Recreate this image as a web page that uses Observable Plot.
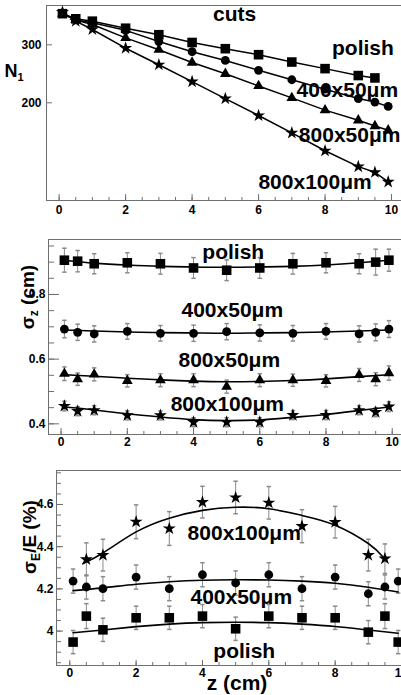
<!DOCTYPE html>
<html><head><meta charset="utf-8">
<script src="https://cdn.jsdelivr.net/npm/d3@7"></script>
<script src="https://cdn.jsdelivr.net/npm/@observablehq/plot@0.6"></script>
<style>
body{margin:0;background:#fff;}
#chart{width:401px;height:695px;position:relative;overflow:hidden;background:#fff}
#chart svg{display:block;overflow:hidden}
</style></head><body><div id="chart"></div>
<script>
// ---------- Panel 1: N1 vs z ----------
const n1XPolish = [0.1,0.5,1,2,3,4,5,6,7,8,9,9.5];
const n1Polish  = [373,360,354,337,322,305,292,280,266,254,242,238];
const n1X        = [0.1,0.5,1,2,3,4,5,6,7,8,9,9.5,9.9];
const n1Cut400x50  = [373,357,350,332,307,286,269,251,235,220,206,201,195];
const n1Cut800x50  = [373,357,346,315,290,265,245,225,207,190,177,170,165];
const n1Cut800x100 = [377,354,334,293,261,232,206,183,162,143,128,123,115];
const n1TickLabels = [200,300];
const n1Labels = ["cuts","polish","400x50μm","800x50μm","800x100μm"];
const n1LabelX = [5.28,9.14,8.67,8.74,7.70];
const n1LabelY = [371,292,219,159,114.6];

// ---------- Panel 2: sigma_z vs z ----------
const szX = [0.1,0.5,1,2,3,4,5,6,7,8,9,9.5,9.9];
const szPolish     = [0.906,0.903,0.895,0.898,0.895,0.882,0.875,0.882,0.895,0.898,0.895,0.900,0.906];
const szPolishErr  = [0.037,0.033,0.031,0.031,0.032,0.032,0.032,0.032,0.032,0.031,0.031,0.040,0.034];
const sz400x50     = [0.693,0.683,0.678,0.686,0.680,0.680,0.685,0.681,0.680,0.686,0.678,0.683,0.693];
const sz400x50Err  = [0.027,0.025,0.025,0.024,0.024,0.025,0.025,0.025,0.024,0.024,0.025,0.026,0.026];
const sz800x50     = [0.555,0.538,0.553,0.533,0.535,0.535,0.515,0.535,0.535,0.533,0.551,0.538,0.557];
const sz800x50Err  = [0.021,0.019,0.020,0.019,0.020,0.020,0.020,0.020,0.019,0.019,0.020,0.020,0.022];
const sz800x100    = [0.455,0.439,0.442,0.426,0.426,0.405,0.405,0.405,0.427,0.427,0.442,0.436,0.453];
const sz800x100Err = [0.015,0.014,0.014,0.014,0.014,0.014,0.014,0.014,0.014,0.014,0.014,0.014,0.015];
const szFitX = [0.1,1,2,3,4,5,6,7,8,9,9.9];
const szFitPolish  = [0.906,0.897,0.891,0.887,0.885,0.884,0.885,0.887,0.891,0.898,0.906];
const szFit400x50  = [0.690,0.687,0.684,0.682,0.681,0.680,0.681,0.682,0.684,0.687,0.690];
const szFit800x50  = [0.552,0.547,0.541,0.536,0.532,0.530,0.531,0.534,0.539,0.546,0.552];
const szFit800x100 = [0.452,0.443,0.431,0.421,0.413,0.410,0.412,0.420,0.429,0.441,0.452];
const szTickLabels = [0.4,0.6,0.8];
const szLabels = ["polish","400x50μm","800x50μm","800x100μm"];
const szLabelX = [5.2,5.17,5.08,5.02];
const szLabelY = [0.930,0.750,0.596,0.462];

// ---------- Panel 3: sigma_E/E vs z ----------
const seXStar = [0.5,1,2,3,4,5,6,7,8,9,9.5];
const se800x100    = [4.340,4.360,4.518,4.486,4.611,4.633,4.608,4.497,4.516,4.360,4.343];
const se800x100Err = [0.078,0.075,0.080,0.080,0.075,0.077,0.077,0.078,0.075,0.075,0.070];
const seX = [0.1,0.5,1,2,3,4,5,6,7,8,9,9.5,9.9];
const se400x50     = [4.237,4.209,4.201,4.256,4.201,4.267,4.228,4.267,4.201,4.256,4.177,4.209,4.237];
const se400x50Err  = [0.057,0.057,0.057,0.057,0.057,0.057,0.057,0.057,0.057,0.057,0.057,0.057,0.057];
const sePolish     = [3.948,4.071,4.006,4.063,4.063,4.071,4.011,4.071,4.063,4.063,3.995,4.071,3.948];
const sePolishErr  = [0.055,0.059,0.055,0.055,0.055,0.055,0.055,0.055,0.055,0.055,0.055,0.059,0.055];
const seFitStarX = [0.4,1,2,3,4,5,6,7,8,9,9.45];
const seFit800x100 = [4.320,4.370,4.470,4.535,4.572,4.587,4.580,4.548,4.502,4.415,4.350];
const seFitX = [0.1,1,2,3,4,5,6,7,8,9,9.9];
const seFit400x50  = [4.192,4.205,4.222,4.234,4.241,4.243,4.242,4.237,4.227,4.208,4.185];
const seFitPolish  = [3.992,4.005,4.021,4.033,4.040,4.042,4.040,4.033,4.022,4.005,3.990];
const seTickLabels = [4,4.2,4.4,4.6];
const seLabels = ["800x100μm","400x50μm","polish"];
const seLabelX = [5.26,5.17,5.26];
const seLabelY = [4.463,4.159,3.903];

const xTickLabels = [0,2,4,6,8,10];

// ---------- helpers ----------
const FONT = "'Liberation Sans', Arial, Helvetica, sans-serif";
const FRAME = "#6f6f6f", ERR = "#8a8a8a";
const W = 401;
const rows = (xs, ys, es) => xs.map((x, i) => ({x, y: ys[i], e: es ? es[i] : 0}));
const capSymbol = {draw(ctx) { ctx.moveTo(-2.2, 0); ctx.lineTo(2.2, 0); }};
const xMinor = d3.range(0, 10.01, 0.5);

function frameMarks(xd, yd) {
  return [
    Plot.ruleX([xd[0]], {stroke: FRAME}),
    Plot.ruleY([yd[0]], {stroke: FRAME}),
    Plot.ruleY([yd[1]], {stroke: FRAME})
  ];
}
function tickMarks(fh, fw, xMaj, xMin, yMaj, yMin, lx, ly) {
  return [
    Plot.tickX(xMaj, {x: d => d, insetTop: fh - lx[0], stroke: FRAME}),
    Plot.tickX(xMin, {x: d => d, insetTop: fh - lx[1], stroke: FRAME}),
    Plot.tickY(yMaj, {y: d => d, insetRight: fw - ly[0], stroke: FRAME}),
    Plot.tickY(yMin, {y: d => d, insetRight: fw - ly[1], stroke: FRAME})
  ];
}
function errMarks(data) {
  return [
    Plot.ruleX(data, {x: "x", y1: d => d.y - d.e, y2: d => d.y + d.e, stroke: ERR}),
    Plot.dot(data, {x: "x", y: d => d.y - d.e, symbol: capSymbol, stroke: ERR, fill: "none"}),
    Plot.dot(data, {x: "x", y: d => d.y + d.e, symbol: capSymbol, stroke: ERR, fill: "none"})
  ];
}
function labelMarks(texts, xs, ys) {
  return Plot.text(texts.map((t, i) => ({t, x: xs[i], y: ys[i]})),
    {x: "x", y: "y", text: "t", fontSize: 21, fontWeight: "bold", fontFamily: FONT, fill: "black"});
}
const symR = {square: 5.4, circle: 4.4, triangle: 4, star: 4.1};
function dots(data, symbol) {
  return Plot.dot(data, {x: "x", y: "y", symbol, r: symR[symbol], fill: "black", stroke: "none"});
}
const style = {fontFamily: FONT, fontSize: "12px", fontWeight: "bold", color: "black", background: "white"};

// ---------- Panel 1 ----------
{
  const mt = 5, mb = 20, ml = 46, H = 220;
  const xd = [-0.38, 10.3], yd = [101, 395];
  const fh = H - mt - mb, fw = W - ml;
  const series = [
    [rows(n1XPolish, n1Polish), "square"],
    [rows(n1X, n1Cut400x50), "circle"],
    [rows(n1X, n1Cut800x50), "triangle"],
    [rows(n1X, n1Cut800x100), "star"]
  ];
  const svg = Plot.plot({
    width: W, height: H, marginTop: mt, marginBottom: mb, marginLeft: ml, marginRight: 0,
    style,
    x: {domain: xd}, y: {type: "log", domain: yd},
    marks: [
      ...frameMarks(xd, yd),
      ...tickMarks(fh, fw, xTickLabels, xMinor, n1TickLabels, [], [6, 3], [6, 3]),
      Plot.axisX({ticks: xTickLabels, tickSize: 0, tickPadding: 5, tickFormat: d => String(d), label: null}),
      Plot.axisY({ticks: n1TickLabels, tickSize: 0, tickPadding: 5, tickFormat: d => String(d), label: null}),
      ...series.map(([d]) => Plot.line(d, {x: "x", y: "y", stroke: "black", strokeWidth: 1.5})),
      ...series.map(([d, s]) => dots(d, s)),
      labelMarks(n1Labels, n1LabelX, n1LabelY)
    ]
  });
  const t = d3.select(svg).append("text").attr("x", 14).attr("y", 77)
    .attr("font-family", FONT).attr("font-weight", "bold").attr("font-size", 18).attr("fill", "black");
  t.append("tspan").text("N");
  t.append("tspan").attr("font-size", 11).attr("dy", 4).text("1");
  document.getElementById("chart").append(svg);
}

// ---------- Panel 2 ----------
{
  const mt = 19, mb = 16, ml = 48, H = 230;
  const xd = [-0.38, 10.28], yd = [0.367, 0.970];
  const fh = H - mt - mb, fw = W - ml;
  const series = [
    [rows(szX, szPolish, szPolishErr), rows(szFitX, szFitPolish), "square"],
    [rows(szX, sz400x50, sz400x50Err), rows(szFitX, szFit400x50), "circle"],
    [rows(szX, sz800x50, sz800x50Err), rows(szFitX, szFit800x50), "triangle"],
    [rows(szX, sz800x100, sz800x100Err), rows(szFitX, szFit800x100), "star"]
  ];
  const svg = Plot.plot({
    width: W, height: H, marginTop: mt, marginBottom: mb, marginLeft: ml, marginRight: 0,
    style,
    x: {domain: xd}, y: {domain: yd},
    marks: [
      ...frameMarks(xd, yd),
      ...tickMarks(fh, fw, xTickLabels, xMinor, szTickLabels, d3.range(0.4, 0.96, 0.05), [6, 3], [11, 6]),
      Plot.axisX({ticks: xTickLabels, tickSize: 0, tickPadding: 3, tickFormat: d => String(d), label: null}),
      Plot.axisY({ticks: szTickLabels, tickSize: 0, tickPadding: 3, tickFormat: d => String(d), label: null}),
      ...series.flatMap(([d]) => errMarks(d)),
      ...series.map(([, f]) => Plot.line(f, {x: "x", y: "y", curve: "natural", stroke: "black", strokeWidth: 1.6})),
      ...series.map(([d, , s]) => dots(d, s)),
      labelMarks(szLabels, szLabelX, szLabelY)
    ]
  });
  const t = d3.select(svg).append("text").attr("transform", "translate(34,77) rotate(-90)")
    .attr("text-anchor", "middle")
    .attr("font-family", FONT).attr("font-weight", "bold").attr("font-size", 19).attr("fill", "black");
  t.append("tspan").text("σ");
  t.append("tspan").attr("font-size", 12).attr("dy", 4).text("z");
  t.append("tspan").attr("dy", -4).text(" (cm)");
  document.getElementById("chart").append(svg);
}

// ---------- Panel 3 ----------
{
  const mt = 20, mb = 30, ml = 56, H = 245;
  const xd = [-0.4, 10.0], yd = [3.837, 4.761];
  const fh = H - mt - mb, fw = W - ml;
  const series = [
    [rows(seXStar, se800x100, se800x100Err), rows(seFitStarX, seFit800x100), "star"],
    [rows(seX, se400x50, se400x50Err), rows(seFitX, seFit400x50), "circle"],
    [rows(seX, sePolish, sePolishErr), rows(seFitX, seFitPolish), "square"]
  ];
  const svg = Plot.plot({
    width: W, height: H, marginTop: mt, marginBottom: mb, marginLeft: ml, marginRight: 0,
    style,
    x: {domain: xd}, y: {domain: yd},
    marks: [
      ...frameMarks(xd, yd),
      ...tickMarks(fh, fw, xTickLabels, xMinor, seTickLabels, d3.range(3.85, 4.76, 0.05), [5, 3], [7, 5]),
      Plot.axisX({ticks: xTickLabels, tickSize: 0, tickPadding: 3, tickFormat: d => String(d), label: null}),
      Plot.axisY({ticks: seTickLabels, tickSize: 0, tickPadding: 3, tickFormat: d => String(d), label: null}),
      ...series.flatMap(([d]) => errMarks(d)),
      ...series.map(([, f]) => Plot.line(f, {x: "x", y: "y", curve: "natural", stroke: "black", strokeWidth: 1.6})),
      ...series.map(([d, , s]) => dots(d, s)),
      labelMarks(seLabels, seLabelX, seLabelY)
    ]
  });
  const t = d3.select(svg).append("text").attr("transform", "translate(36,87) rotate(-90)")
    .attr("text-anchor", "middle")
    .attr("font-family", FONT).attr("font-weight", "bold").attr("font-size", 19).attr("fill", "black");
  t.append("tspan").text("σ");
  t.append("tspan").attr("font-size", 12).attr("dy", 4).text("E");
  t.append("tspan").attr("dy", -4).text("/E (%)");
  d3.select(svg).append("text").attr("x", 237).attr("y", 240).attr("text-anchor", "middle")
    .attr("font-family", FONT).attr("font-weight", "bold").attr("font-size", 21).attr("fill", "black")
    .text("z (cm)");
  document.getElementById("chart").append(svg);
}
</script></body></html>
